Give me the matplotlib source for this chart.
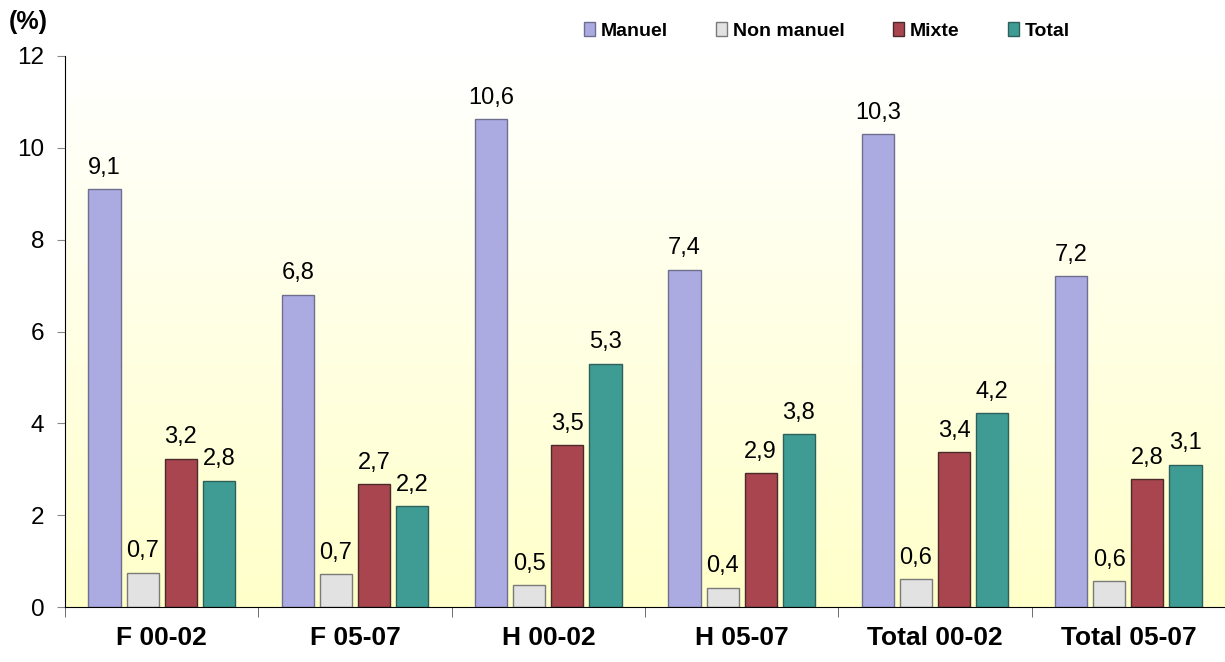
import numpy as np
import matplotlib.pyplot as plt
from matplotlib import font_manager
from matplotlib.patches import Patch

GROUPS = ["F 00-02", "F 05-07", "H 00-02", "H 05-07", "Total 00-02", "Total 05-07"]
SERIES = ["Manuel", "Non manuel", "Mixte", "Total"]
MANUEL = [9.1, 6.8, 10.63, 7.35, 10.3, 7.2]
NON_MANUEL = [0.75, 0.72, 0.48, 0.42, 0.6, 0.57]
MIXTE = [3.23, 2.67, 3.53, 2.92, 3.38, 2.78]
TOTAL = [2.75, 2.2, 5.3, 3.77, 4.22, 3.1]
LABELS = [
    ["9,1", "6,8", "10,6", "7,4", "10,3", "7,2"],
    ["0,7", "0,7", "0,5", "0,4", "0,6", "0,6"],
    ["3,2", "2,7", "3,5", "2,9", "3,4", "2,8"],
    ["2,8", "2,2", "5,3", "3,8", "4,2", "3,1"],
]
COLORS = ["#ABABE2", "#E2E2E2", "#A8454F", "#3E9C94"]
EDGES = ["#6E6E8E", "#7A7A7A", "#4A2A2A", "#2F5F5A"]

names = {f.name for f in font_manager.fontManager.ttflist}
NARROW = "Liberation Sans Narrow" if "Liberation Sans Narrow" in names else "Liberation Sans"
plt.rcParams["font.family"] = ["Liberation Sans", "DejaVu Sans"]

fig = plt.figure(figsize=(12.25, 6.62), dpi=100)
ax = fig.add_axes([65 / 1225, 1 - 607 / 662, 1 - 65 / 1225, 551 / 662])

# white-to-pale-yellow background gradient
grad = np.linspace(0, 1, 256).reshape(-1, 1)
top = np.array([1.0, 1.0, 1.0])
bot = np.array([1.0, 1.0, 0.79])
img = top + (bot - top) * grad[..., None] * np.ones((1, 1, 1))
ax.imshow(img, extent=[0, 6, 0, 12], aspect="auto", origin="upper", zorder=0)

step = 0.197
width = 0.166
x = np.arange(len(GROUPS)) + 0.5
for i, (vals, col, ec) in enumerate(zip([MANUEL, NON_MANUEL, MIXTE, TOTAL], COLORS, EDGES)):
    pos = x + (i - 1.5) * step
    ax.bar(pos, vals, width=width, color=col, edgecolor=ec, linewidth=1.0, zorder=2)
    for p, v, lab in zip(pos, vals, LABELS[i]):
        ax.annotate(lab, (p, v), xytext=(0, 11), textcoords="offset points",
                    ha="center", va="baseline", fontsize=17, family=[NARROW, "DejaVu Sans"])

ax.set_xlim(0, 6)
ax.set_ylim(0, 12)
ax.set_yticks(range(0, 13, 2))
ax.tick_params(axis="y", labelsize=17.5, length=6, color="#888888", pad=9)
ax.set_xticks(x)
ax.set_xticklabels(GROUPS, fontsize=19, fontweight="bold")
ax.tick_params(axis="x", length=0, pad=14)
ax.set_xticks(np.arange(0, 7), minor=True)
ax.tick_params(axis="x", which="minor", length=7, color="#555555")
ax.spines[["top", "right"]].set_visible(False)
ax.spines["left"].set_color("black")
ax.spines["bottom"].set_color("black")

fig.text(9 / 1225, 1 - 22 / 662, "(%)", fontsize=18, fontweight="bold", va="center", ha="left")

handles = [Patch(facecolor=c, edgecolor=e, label=s) for c, e, s in zip(COLORS, EDGES, SERIES)]
fig.legend(handles=handles, loc="center", bbox_to_anchor=(827 / 1225, 1 - 31 / 662), ncol=4,
           frameon=False, prop={"weight": "bold", "size": 14}, handlelength=0.55,
           handleheight=0.75, handletextpad=0.3, columnspacing=2.5)

fig.savefig("out.png", dpi=100, facecolor="white")
